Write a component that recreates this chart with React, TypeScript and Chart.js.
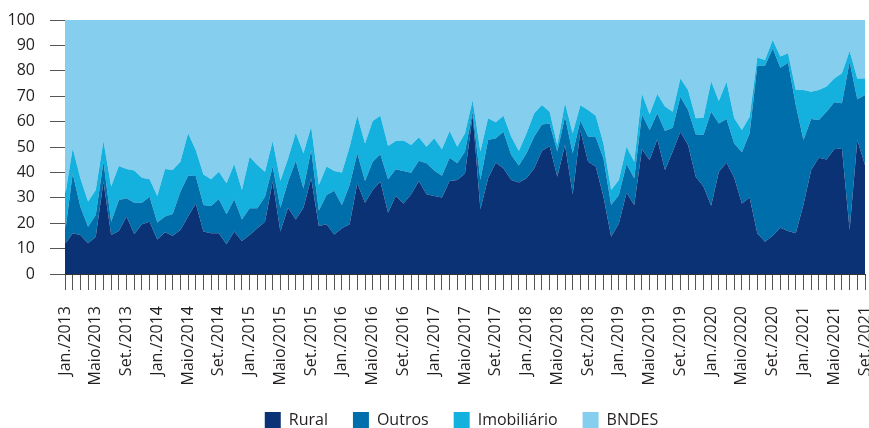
import React, { useEffect, useRef } from 'react';
import { Chart, registerables } from 'chart.js';

Chart.register(...registerables);

const MONTH_NAMES = ['Jan.', 'Fev.', 'Mar.', 'Abr.', 'Maio', 'Jun.', 'Jul.', 'Ago.', 'Set.', 'Out.', 'Nov.', 'Dez.'];
const YEARS = [2013, 2014, 2015, 2016, 2017, 2018, 2019, 2020, 2021];
const LAST_MONTH_2021 = 8; // Set./2021

const categories: string[] = [];
YEARS.forEach((y) => {
  MONTH_NAMES.forEach((m, mi) => {
    if (y === 2021 && mi > LAST_MONTH_2021) return;
    categories.push(`${m}/${y}`);
  });
});

const rural = [
  11.8, 16.0, 15.4, 12.1, 14.7, 36.4, 15.4, 16.9, 22.6, 15.7,
  19.6, 20.6, 13.6, 16.4, 15.1, 17.3, 22.6, 27.8, 16.7, 16.0,
  16.0, 11.7, 16.7, 13.0, 15.4, 18.0, 20.6, 36.4, 16.7, 26.1,
  21.5, 26.1, 37.7, 18.9, 19.6, 15.6, 18.0, 19.6, 35.7, 28.1,
  33.1, 36.4, 24.1, 30.8, 27.8, 31.4, 36.6, 31.4, 30.7, 30.1,
  36.6, 37.0, 39.6, 62.6, 25.5, 37.7, 43.8, 41.6, 37.0, 36.0,
  37.7, 41.6, 48.4, 50.4, 38.3, 50.8, 31.4, 56.5, 44.2, 42.3,
  30.4, 14.7, 19.9, 32.0, 27.2, 49.1, 44.9, 53.1, 40.9, 48.2,
  56.0, 50.8, 38.3, 34.4, 26.9, 40.3, 43.8, 37.9, 27.8, 30.1,
  16.0, 12.7, 15.1, 18.2, 16.9, 16.0, 27.4, 40.9, 45.8, 45.1,
  49.1, 49.5, 17.3, 52.8, 42.9,
];

const outros = [
  4.2, 23.6, 11.1, 6.5, 8.5, 7.8, 5.2, 12.2, 7.2, 12.4,
  8.5, 9.8, 6.7, 6.2, 8.5, 15.1, 16.1, 10.8, 10.5, 10.8,
  13.5, 11.8, 12.7, 8.5, 10.5, 7.9, 9.8, 5.9, 9.4, 10.3,
  23.1, 7.6, 11.1, 6.1, 11.5, 17.2, 9.2, 15.4, 11.8, 8.5,
  11.1, 10.7, 13.2, 10.4, 12.8, 8.5, 8.0, 12.2, 10.0, 8.6,
  9.2, 6.6, 8.6, 1.3, 11.5, 15.1, 9.6, 14.4, 9.9, 6.7,
  9.8, 12.5, 10.5, 8.9, 9.9, 11.1, 16.1, 3.9, 9.9, 11.5,
  15.1, 12.5, 11.2, 11.3, 10.5, 13.8, 11.8, 10.2, 15.4, 9.4,
  13.8, 13.8, 16.7, 20.3, 37.0, 19.0, 17.2, 13.5, 20.1, 25.3,
  66.0, 69.3, 73.7, 63.0, 66.3, 50.5, 25.4, 20.1, 14.8, 18.8,
  18.5, 17.7, 66.3, 16.0, 27.6,
];

const imobiliario = [
  14.4, 9.9, 11.2, 9.9, 9.9, 8.2, 13.8, 13.4, 11.5, 12.6,
  9.8, 6.9, 10.4, 18.7, 17.3, 11.8, 16.7, 10.2, 12.0, 10.5,
  10.8, 12.2, 13.9, 11.6, 20.3, 17.0, 9.9, 10.1, 10.6, 9.1,
  11.0, 13.8, 9.2, 10.0, 11.2, 7.8, 12.8, 15.1, 14.8, 14.8,
  16.0, 15.2, 13.1, 11.2, 12.0, 10.9, 9.2, 6.5, 12.7, 10.4,
  10.5, 6.5, 7.2, 4.6, 11.2, 8.5, 6.3, 6.3, 7.2, 5.7,
  7.9, 9.2, 7.6, 4.6, 2.6, 5.3, 7.9, 6.0, 10.5, 8.5,
  5.9, 5.9, 5.9, 6.8, 6.5, 8.2, 6.2, 7.6, 9.6, 6.3,
  7.2, 7.8, 6.3, 6.8, 12.0, 8.8, 14.7, 9.9, 8.8, 6.5,
  3.2, 2.3, 3.3, 4.4, 3.7, 5.9, 19.6, 10.8, 11.8, 9.9,
  9.4, 11.8, 4.2, 8.2, 6.5,
];

const bndes = [
  69.6, 50.5, 62.3, 71.5, 66.9, 47.6, 65.6, 57.5, 58.7, 59.3,
  62.1, 62.7, 69.3, 58.7, 59.1, 55.8, 44.6, 51.2, 60.8, 62.7,
  59.7, 64.3, 56.7, 66.9, 53.8, 57.1, 59.7, 47.6, 63.3, 54.5,
  44.4, 52.5, 42.0, 65.0, 57.7, 59.4, 60.0, 49.9, 37.7, 48.6,
  39.8, 37.7, 49.6, 47.6, 47.4, 49.2, 46.2, 49.9, 46.6, 50.9,
  43.7, 49.9, 44.6, 31.5, 51.8, 38.7, 40.3, 37.7, 45.9, 51.6,
  44.6, 36.7, 33.5, 36.1, 49.2, 32.8, 44.6, 33.6, 35.4, 37.7,
  48.6, 66.9, 63.0, 49.9, 55.8, 28.9, 37.1, 29.1, 34.1, 36.1,
  23.0, 27.6, 38.7, 38.5, 24.1, 31.9, 24.3, 38.7, 43.3, 38.1,
  14.8, 15.7, 7.9, 14.4, 13.1, 27.6, 27.6, 28.2, 27.6, 26.2,
  23.0, 21.0, 12.2, 23.0, 23.0,
];

const yTicks = [0, 10, 20, 30, 40, 50, 60, 70, 80, 90, 100];

const COLORS = {
  rural: '#0b3275',
  outros: '#006eaa',
  imobiliario: '#14b0de',
  bndes: '#86ceee',
};

const TEXT = '#231f20';

const legendShift = {
  id: 'legendShift',
  afterLayout(chart: any) {
    const lg = chart.legend;
    if (lg) {
      lg.left += 29;
      lg.right += 29;
    }
  },
};

export default function App() {
  const ref = useRef<HTMLCanvasElement | null>(null);

  useEffect(() => {
    if (!ref.current) return;
    Chart.defaults.font.family = "'Open Sans', sans-serif";
    Chart.defaults.font.size = 16;
    Chart.defaults.color = TEXT;

    const mk = (label: string, data: number[], color: string, fill: any) => ({
      label,
      data,
      backgroundColor: color,
      borderColor: color,
      borderWidth: 0,
      pointRadius: 0,
      pointHoverRadius: 0,
      tension: 0,
      fill,
    });

    const chart = new Chart(ref.current, {
      type: 'line',
      data: {
        labels: categories,
        datasets: [
          mk('Rural', rural, COLORS.rural, 'origin'),
          mk('Outros', outros, COLORS.outros, '-1'),
          mk('Imobiliário', imobiliario, COLORS.imobiliario, '-1'),
          mk('BNDES', bndes, COLORS.bndes, '-1'),
        ],
      },
      options: {
        animation: false,
        responsive: false,
        devicePixelRatio: 1,
        layout: { padding: { top: 20, left: 0, right: 4, bottom: 0 } },
        plugins: {
          tooltip: { enabled: false },
          legend: {
            position: 'bottom',
            labels: {
              boxWidth: 16,
              boxHeight: 16,
              padding: 25,
              color: TEXT,
              font: { size: 16, family: "'Open Sans', sans-serif" },
            },
          },
        },
        scales: {
          x: {
            type: 'category',
            offset: false,
            grid: {
              display: true,
              drawOnChartArea: false,
              drawTicks: true,
              tickLength: 16,
              color: '#555',
            },
            border: { display: true, color: '#333' },
            ticks: {
              autoSkip: false,
              maxRotation: 90,
              minRotation: 90,
              padding: 16,
              color: TEXT,
              font: { size: 16 },
              callback: (_v: any, i: number) => (i % 4 === 0 ? categories[i] : ''),
            },
            afterFit: (s: any) => {
              s.height = 113;
              s.paddingLeft = 0;
              s.paddingRight = 0;
            },
          },
          y: {
            stacked: true,
            min: 0,
            max: 100,
            afterBuildTicks: (s: any) => {
              s.ticks = yTicks.map((v) => ({ value: v }));
            },
            grid: {
              display: true,
              drawOnChartArea: false,
              drawTicks: true,
              tickLength: 15,
              color: '#555',
            },
            border: { display: true, color: '#333' },
            ticks: {
              padding: 15,
              color: TEXT,
              font: { size: 16 },
            },
            afterFit: (s: any) => {
              s.width = 65;
              s.paddingTop = 0;
              s.paddingBottom = 0;
            },
          },
        },
      },
      plugins: [legendShift],
    } as any);

    return () => chart.destroy();
  }, []);

  return (
    <div style={{ position: 'fixed', left: 0, top: 0, width: 869, height: 438, background: '#fff' }}>
      <canvas ref={ref} width={869} height={438} style={{ display: 'block' }} />
    </div>
  );
}
